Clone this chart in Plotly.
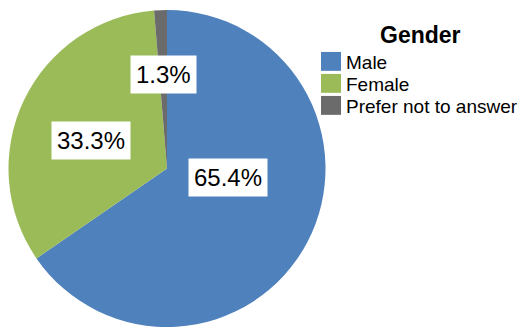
import plotly.graph_objects as go

# ---- data ----
categories = ["Male", "Female", "Prefer not to answer"]
values = [65.4, 33.3, 1.3]
label_texts = ["65.4%", "33.3%", "1.3%"]
legend_title = "Gender"

# ---- style ----
colors = ["#4F81BD", "#9BBB59", "#6B6B6B"]
W, H = 520, 327
FONT = "Liberation Sans, Arial"
# label box centers in pixels (layout choice, Excel "best fit" placement)
label_px = [(228, 173), (91, 135), (163, 67)]
# legend layout (pixels)
leg_sq_x0, leg_sq_x1 = 321, 341
leg_row_y0, leg_row_dy = 53, 22.7
leg_sq_h = 19.5
leg_text_x = 344
leg_title_xy = (420, 26)

cx, r = 167, 158.5
top = 10


def px_x(v):
    return v / W


def px_y(v):
    return 1 - v / H


fig = go.Figure(go.Pie(
    labels=categories,
    values=values,
    sort=False,
    direction="clockwise",
    rotation=0,
    textinfo="none",
    hoverinfo="label+percent",
    marker=dict(colors=colors, line=dict(width=0)),
    domain=dict(x=[(cx - r) / W, (cx + r) / W], y=[0, 1]),
    showlegend=False,
))

for (px, py), t in zip(label_px, label_texts):
    fig.add_annotation(
        x=px_x(px), y=px_y(py), xref="paper", yref="paper",
        text=t, showarrow=False,
        font=dict(family=FONT, size=24, color="black"),
        bgcolor="white", borderpad=5,
        xanchor="center", yanchor="middle",
    )

# legend built from the same category / colour lists
fig.add_annotation(
    x=px_x(leg_title_xy[0]), y=px_y(leg_title_xy[1]), xref="paper", yref="paper",
    text="<b>%s</b>" % legend_title, showarrow=False,
    font=dict(family=FONT, size=23, color="black"),
    xanchor="center", yanchor="middle",
)
for i, (cat, col) in enumerate(zip(categories, colors)):
    yc = leg_row_y0 + i * leg_row_dy
    fig.add_shape(
        type="rect", xref="paper", yref="paper",
        x0=px_x(leg_sq_x0), x1=px_x(leg_sq_x1),
        y0=px_y(yc - leg_sq_h / 2), y1=px_y(yc + leg_sq_h / 2),
        fillcolor=col, line=dict(width=0),
    )
    fig.add_annotation(
        x=px_x(leg_text_x), y=px_y(yc + 1), xref="paper", yref="paper",
        text=cat, showarrow=False,
        font=dict(family=FONT, size=19, color="black"),
        xanchor="left", yanchor="middle",
    )

fig.update_layout(
    width=W, height=H,
    margin=dict(l=0, r=0, t=top, b=0),
    paper_bgcolor="white",
    plot_bgcolor="white",
    font=dict(family=FONT, color="black"),
    showlegend=False,
)

fig.write_html("out.html")
